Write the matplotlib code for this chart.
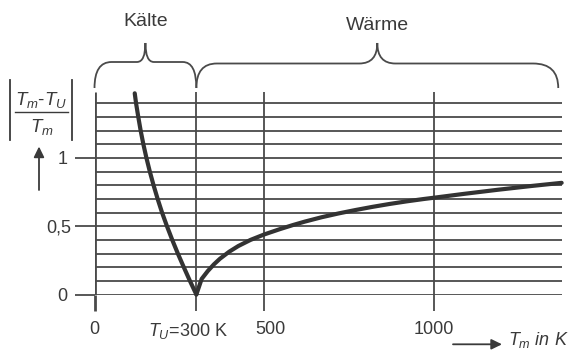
import matplotlib
matplotlib.use("Agg")
import matplotlib.pyplot as plt
from matplotlib.path import Path
from matplotlib.patches import PathPatch, FancyArrowPatch, ArrowStyle
from matplotlib.lines import Line2D
from matplotlib.transforms import Affine2D, ScaledTranslation, blended_transform_factory

# ---- data -------------------------------------------------------------
x_ticks = [0, 300, 500, 1000]
x_tick_labels = ["0", r"$T_U$=300 K", "500", "1000"]
y_ticks = [0, 0.5, 1]
y_tick_labels = ["0", "0,5", "1"]
grid_levels = [0.0, 0.1, 0.2, 0.3, 0.4, 0.5, 0.6, 0.7, 0.8, 0.9,
               1.0, 1.1, 1.2, 1.3, 1.4]
vertical_marks = [0, 300, 500, 1000]

# |Tm - Tu| / Tm, cooling side (Tm < Tu)
cold_tm = [118.5, 122.5, 129, 136, 144, 153, 163, 174, 186, 199, 213.5,
           229, 245.5, 263, 281, 300]
cold_ratio = [1.474, 1.4, 1.3, 1.2, 1.1, 1.0, 0.9, 0.8, 0.7, 0.6, 0.5,
              0.4, 0.3, 0.2, 0.1, 0.0]
# |Tm - Tu| / Tm, heating side (Tm > Tu)
warm_tm = [300, 315.6, 333.7, 351.8, 369.5, 396.5, 423.5, 459.6, 500, 545,
           584.7, 619.5, 669, 719, 769, 818.6, 868.5, 918.4, 968, 1000,
           1087.6, 1187, 1287, 1376]
warm_ratio = [0.0, 0.114, 0.172, 0.221, 0.262, 0.313, 0.355, 0.40, 0.44,
              0.478, 0.509, 0.534, 0.566, 0.594, 0.619, 0.642, 0.663, 0.682,
              0.699, 0.709, 0.737, 0.767, 0.795, 0.818]

kaelte_span = (0, 300)
waerme_span = (300, 1366)

# ---- styling ----------------------------------------------------------
W, H = 569, 350
LINE = "#4a4a4a"
CURVE = "#333333"
TEXT = "#3a3a3a"

plt.rcParams["font.family"] = ["Liberation Sans", "DejaVu Sans"]
plt.rcParams["mathtext.fontset"] = "custom"
plt.rcParams["mathtext.rm"] = "Liberation Sans"
plt.rcParams["mathtext.it"] = "Liberation Sans:italic"
plt.rcParams["mathtext.bf"] = "Liberation Sans:bold"

fig = plt.figure(figsize=(W / 100, H / 100), dpi=100)
fig.patch.set_facecolor("white")

# pixel transform (origin top-left)
pix = Affine2D().scale(1 / 100, -1 / 100).translate(0, H / 100) + fig.dpi_scale_trans

X_MAX, Y_MAX = 1380, 1.5
PX_X, PX_Y = 0.3395, 136.5
ax = fig.add_axes([94.5 / W, (H - 294.5) / H, X_MAX * PX_X / W, Y_MAX * PX_Y / H])
ax.set_xlim(0, X_MAX)
ax.set_ylim(0, Y_MAX)
for s in ax.spines.values():
    s.set_visible(False)
ax.patch.set_alpha(0)

# grid of horizontal lines
ax.hlines(grid_levels, 0, 1377, color=LINE, lw=1.3, zorder=1)
# vertical reference lines
for xv in vertical_marks:
    ax.vlines(xv, 0, 1.485, color=LINE, lw=2.0 if xv == 0 else 1.3, zorder=1)

# curve
for xs, ys in ((cold_tm, cold_ratio), (warm_tm, warm_ratio)):
    ax.plot(xs, ys, color=CURVE, lw=3.0, solid_capstyle="round",
            solid_joinstyle="round", zorder=3, clip_on=False)

# ticks
ax.set_xticks(x_ticks, x_tick_labels)
ax.tick_params(axis="x", direction="out", length=11.2, width=1.3, color=LINE,
               pad=8, labelsize=13, labelcolor=TEXT)
ax.set_yticks(y_ticks, y_tick_labels)
ax.tick_params(axis="y", direction="out", length=14.4, width=1.3, color=LINE,
               pad=5, labelsize=13, labelcolor=TEXT)
half_tick = ax.yaxis.get_major_ticks()[1]
half_tick.tick1line.set_markersize(10)
half_tick.set_pad(2)
zero_tick = ax.xaxis.get_major_ticks()[0]
zero_tick.tick1line.set_markeredgewidth(2.0)
for tick, dx in zip(ax.xaxis.get_major_ticks(), (0, -8, 6, 0)):
    if dx:
        lbl = tick.label1
        lbl.set_transform(lbl.get_transform()
                          + ScaledTranslation(dx / 100, 0, fig.dpi_scale_trans))

# ---- braces -----------------------------------------------------------
bt = blended_transform_factory(ax.transData, pix)


def brace(x0, x1, y_base, y_line, y_tip, r_left, r_right, r_tip):
    xm = 0.5 * (x0 + x1)
    verts = [
        (x0, y_base), (x0, y_line), (x0 + r_left, y_line),
        (xm - r_tip, y_line),
        (xm, y_line), (xm, y_tip),
        (xm, y_line), (xm + r_tip, y_line),
        (x1 - r_right, y_line),
        (x1, y_line), (x1, y_base),
    ]
    codes = [Path.MOVETO, Path.CURVE3, Path.CURVE3, Path.LINETO,
             Path.CURVE3, Path.CURVE3, Path.CURVE3, Path.CURVE3,
             Path.LINETO, Path.CURVE3, Path.CURVE3]
    fig.add_artist(PathPatch(Path(verts, codes), transform=bt, fill=False,
                             edgecolor=LINE, lw=1.3, clip_on=False))
    return xm


km = brace(*kaelte_span, 88, 62, 43, 50, 40, 25)
wm = brace(*waerme_span, 88, 63.5, 43, 60, 74, 53)
fig.text(km, 21, "Kälte", transform=bt, ha="center", va="center",
         fontsize=14, color=TEXT)
fig.text(wm, 26, "Wärme", transform=bt, ha="center", va="center",
         fontsize=14, color=TEXT)

# ---- y-axis label: |(Tm - Tu) / Tm| with arrow -----------------------
fig.text(41, 100, r"$T_m$-$T_U$", transform=pix, ha="center", va="center",
         fontsize=13.5, color=TEXT)
fig.text(42, 127, r"$T_m$", transform=pix, ha="center", va="center",
         fontsize=13.5, color=TEXT)
fig.add_artist(Line2D([15, 68], [111.7, 111.7], transform=pix, color=TEXT, lw=1.0))
for bx in (10, 71.7):
    fig.add_artist(Line2D([bx, bx], [80, 140], transform=pix, color=TEXT, lw=1.3))

arrow_style = ArrowStyle("-|>", head_length=0.45, head_width=0.22)
fig.add_artist(FancyArrowPatch((39, 190), (39, 146.5), transform=pix,
                               arrowstyle=arrow_style, mutation_scale=14,
                               color=TEXT, lw=1.3, shrinkA=0, shrinkB=0))

# ---- x-axis label ------------------------------------------------------
fig.add_artist(FancyArrowPatch((453, 344.3), (502, 344.3), transform=pix,
                               arrowstyle=arrow_style, mutation_scale=14,
                               color=TEXT, lw=1.3, shrinkA=0, shrinkB=0))
fig.text(508, 340, r"$T_m$ in K", transform=pix, ha="left", va="center",
         fontsize=13, color=TEXT, style="italic")

fig.savefig("out.png", dpi=100, facecolor="white")
